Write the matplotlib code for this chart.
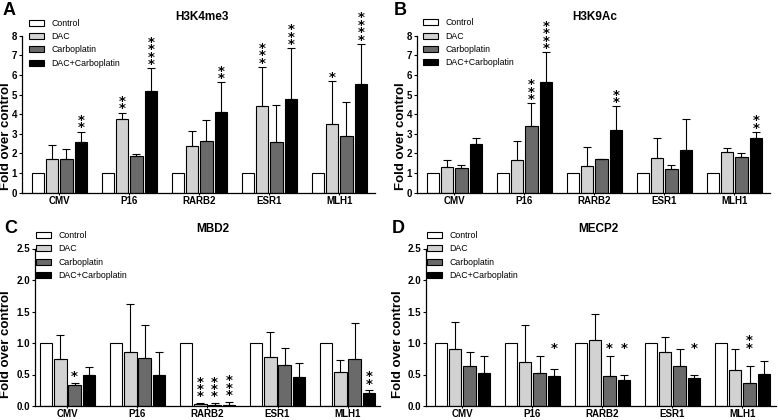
import numpy as np
import matplotlib
matplotlib.use("Agg")
import matplotlib.pyplot as plt
from matplotlib.patches import Patch

plt.rcParams['font.family'] = ['Liberation Sans', 'DejaVu Sans']

"""
Data
"""
genes = ['CMV', 'P16', 'RARB2', 'ESR1', 'MLH1']
groups = ['Control', 'DAC', 'Carboplatin', 'DAC+Carboplatin']
colors = ['white', '#d2d2d2', '#6a6a6a', 'black']

control = [1, 1, 1, 1, 1]

# H3K4me3
k4_dac = [1.71, 3.75, 2.38, 4.41, 3.49]
k4_dac_err = [0.72, 0.33, 0.77, 2.0, 2.2]
k4_carbo = [1.72, 1.85, 2.63, 2.58, 2.89]
k4_carbo_err = [0.49, 0.12, 1.05, 1.9, 1.72]
k4_combo = [2.6, 5.16, 4.13, 4.75, 5.52]
k4_combo_err = [0.5, 1.17, 1.49, 2.6, 2.06]
k4_stars = [(3, 0, '**'), (1, 1, '**'), (3, 1, '****'), (3, 2, '**'),
            (1, 3, '***'), (3, 3, '***'), (1, 4, '*'), (3, 4, '****')]

# H3K9Ac
k9_dac = [1.29, 1.66, 1.38, 1.75, 2.09]
k9_dac_err = [0.36, 0.97, 0.95, 1.05, 0.19]
k9_carbo = [1.26, 3.41, 1.73, 1.22, 1.80]
k9_carbo_err = [0.15, 1.14, 0.0, 0.17, 0.2]
k9_combo = [2.46, 5.62, 3.19, 2.19, 2.80]
k9_combo_err = [0.34, 1.53, 1.21, 1.56, 0.29]
k9_stars = [(2, 1, '***'), (3, 1, '****'), (3, 2, '**'), (3, 4, '**')]

# MBD2
mbd_dac = [0.74, 0.86, 0.03, 0.78, 0.54]
mbd_dac_err = [0.39, 0.76, 0.02, 0.40, 0.19]
mbd_carbo = [0.33, 0.76, 0.01, 0.65, 0.75]
mbd_carbo_err = [0.04, 0.53, 0.04, 0.27, 0.56]
mbd_combo = [0.50, 0.50, 0.01, 0.46, 0.20]
mbd_combo_err = [0.12, 0.35, 0.06, 0.22, 0.05]
mbd_stars = [(2, 0, '*'), (1, 2, '***'), (2, 2, '***'), (3, 2, '***'), (3, 4, '**')]

# MECP2
mecp_dac = [0.91, 0.70, 1.04, 0.85, 0.57]
mecp_dac_err = [0.43, 0.58, 0.42, 0.24, 0.33]
mecp_carbo = [0.64, 0.52, 0.48, 0.64, 0.37]
mecp_carbo_err = [0.22, 0.27, 0.32, 0.27, 0.26]
mecp_combo = [0.53, 0.48, 0.42, 0.45, 0.51]
mecp_combo_err = [0.26, 0.11, 0.07, 0.05, 0.20]
mecp_stars = [(3, 1, '*'), (2, 2, '*'), (3, 2, '*'), (3, 3, '*'), (2, 4, '**')]

"""
Figure setup
"""
W, H = 778, 420
fig = plt.figure(figsize=(W / 100, H / 100), dpi=100)


def fx(px):
    return px / W


def fy(py):
    return 1 - py / H


offsets = [-0.3075, -0.1025, 0.1025, 0.3075]
bar_w = 0.178
PT = 72 / 100          # points per pixel


def draw_panel(ax, means, errs, stars, ymax, ystep, fmt, xlim, star_gap, star_level=None):
    x = np.arange(len(genes))
    for i in range(4):
        ax.bar(x + offsets[i], means[i], bar_w, color=colors[i],
               edgecolor='black', linewidth=0.8, zorder=2)
        if errs[i] is not None:
            ax.errorbar(x + offsets[i], means[i], yerr=[np.zeros(len(genes)), errs[i]],
                        fmt='none', ecolor='black', elinewidth=0.8,
                        capsize=2.6, capthick=0.8, zorder=3)
    # significance stars, stacked as one multi-line text
    for s, g, txt in stars:
        if star_level is None:
            top = means[s][g] + errs[s][g]
            gap = star_gap
        else:
            top = star_level
            gap = 0
        # bottom glyph centre sits ~10.6 px above the text box bottom
        ax.annotate('\n'.join(txt), (g + offsets[s], top), xytext=(0, (gap - 10.6) * PT),
                    textcoords='offset points', ha='center', va='bottom',
                    fontsize=9.5, fontweight='bold', family='DejaVu Sans',
                    linespacing=0.44)
    ax.set_xlim(*xlim)
    ax.set_ylim(0, ymax)
    ticks = np.arange(0, ymax + ystep / 2, ystep)
    ax.set_yticks(ticks)
    ax.set_yticklabels([fmt.format(v) for v in ticks], fontweight='bold', fontsize=7)
    ax.set_xticks(x)
    ax.set_xticklabels(genes, fontweight='bold', fontsize=7)
    ax.tick_params(axis='y', length=2.5, width=0.8, pad=1)
    ax.tick_params(axis='x', length=1.5, width=0.8, pad=0.8)
    for sp in ['top', 'right']:
        ax.spines[sp].set_visible(False)
    for sp in ['left', 'bottom']:
        ax.spines[sp].set_linewidth(0.9)
    ax.patch.set_alpha(0)


handles = [Patch(facecolor=c, edgecolor='black', linewidth=0.8) for c in colors]

panels = [
    # letter, title, means, errs, stars, ymax, step, fmt, rect px, xlim, star gap px,
    # star level, letter pos, title pos, ylabel pos, legend pos
    ('A', 'H3K4me3', [control, k4_dac, k4_carbo, k4_combo],
     [None, k4_dac_err, k4_carbo_err, k4_combo_err], k4_stars, 8, 1, '{:.0f}',
     (22, 35.7, 375, 192.7), (-0.533, 4.51), 8, None,
     (3, 15), (201.7, 20), (6, 136), (29, 18.7)),
    ('B', 'H3K9Ac', [control, k9_dac, k9_carbo, k9_combo],
     [None, k9_dac_err, k9_carbo_err, k9_combo_err], k9_stars, 8, 1, '{:.0f}',
     (417, 35.7, 770, 192.7), (-0.533, 4.51), 8, None,
     (394, 15), (595, 20), (400.7, 136), (423, 18.3)),
    ('C', 'MBD2', [control, mbd_dac, mbd_carbo, mbd_combo],
     [None, mbd_dac_err, mbd_carbo_err, mbd_combo_err], mbd_stars, 2.5, 0.5, '{:.1f}',
     (35, 248.5, 380, 406), (-0.464, 4.464), 10, None,
     (4, 233), (212.5, 232), (6, 344), (36, 231)),
    ('D', 'MECP2', [control, mecp_dac, mecp_carbo, mecp_combo],
     [None, mecp_dac_err, mecp_carbo_err, mecp_combo_err], mecp_stars, 2.5, 0.5, '{:.1f}',
     (426, 248.5, 776, 406), (-0.52, 4.48), 0, 0.985,
     (392, 233), (598, 232), (398, 344), (427, 231)),
]

for (letter, title, means, errs, stars, ymax, step, fmt, rect, xlim, gap, lvl,
     lpos, tpos, ypos, legpos) in panels:
    x0, y0, x1, y1 = rect
    ax = fig.add_axes([fx(x0), fy(y1), fx(x1 - x0), (y1 - y0) / H])
    draw_panel(ax, means, errs, stars, ymax, step, fmt, xlim, gap, lvl)
    ax.legend(handles, groups, loc='upper left',
              bbox_to_anchor=(fx(legpos[0]), fy(legpos[1])),
              bbox_transform=fig.transFigure, frameon=False, fontsize=6.3,
              handlelength=1.72, handleheight=0.69, labelspacing=0.5,
              handletextpad=0.8, borderpad=0, borderaxespad=0)
    fig.text(fx(lpos[0]), fy(lpos[1]), letter, fontsize=13, fontweight='bold',
             ha='left', va='baseline')
    fig.text(fx(tpos[0]), fy(tpos[1]), title, fontsize=8.5, fontweight='bold',
             ha='center', va='baseline')
    fig.text(fx(ypos[0]), fy(ypos[1]), 'Fold over control', fontsize=9.5,
             fontweight='bold', rotation=90, ha='center', va='center')

fig.savefig('out.png', dpi=100)
